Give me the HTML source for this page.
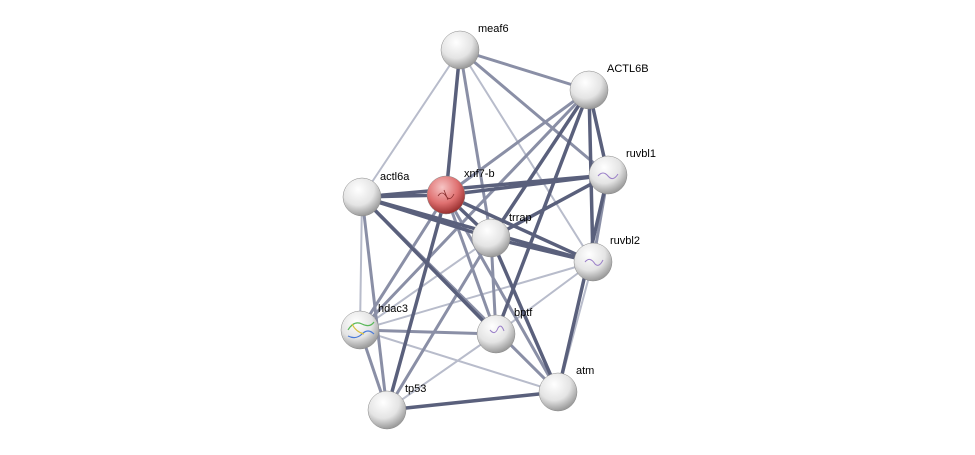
<!DOCTYPE html>
<html><head><meta charset="utf-8"><style>
html,body{margin:0;padding:0;background:#fff;}
svg{display:block;}
text{font-family:"Liberation Sans",sans-serif;font-size:11px;fill:#000;}
</style></head><body>
<svg width="975" height="455" viewBox="0 0 975 455">
<defs>
<radialGradient id="g" cx="40%" cy="30%" r="70%">
<stop offset="0" stop-color="#ffffff"/><stop offset="0.6" stop-color="#e4e4e4"/><stop offset="1" stop-color="#9a9a9a"/>
</radialGradient>
<radialGradient id="r" cx="40%" cy="30%" r="70%">
<stop offset="0" stop-color="#f6c4c4"/><stop offset="0.6" stop-color="#df7070"/><stop offset="1" stop-color="#9a3030"/>
</radialGradient>
</defs>
<g stroke-linecap="round">
<g stroke="#b8bccb" stroke-width="2">
<line x1="460" y1="50" x2="362" y2="197"/>
<line x1="460" y1="50" x2="593" y2="262"/>
<line x1="362" y1="197" x2="360" y2="330"/>
<line x1="360" y1="330" x2="593" y2="262"/>
<line x1="496" y1="334" x2="593" y2="262"/>
<line x1="360" y1="330" x2="558" y2="392"/>
<line x1="387" y1="410" x2="496" y2="334"/>
<line x1="558" y1="392" x2="593" y2="262"/>
<line x1="360" y1="330" x2="491" y2="238"/>
</g>
<g stroke="#8a8fa6" stroke-width="3">
<line x1="460" y1="50" x2="589" y2="90"/>
<line x1="460" y1="50" x2="608" y2="175"/>
<line x1="460" y1="50" x2="491" y2="238"/>
<line x1="589" y1="90" x2="446" y2="195"/>
<line x1="589" y1="90" x2="360" y2="330"/>
<line x1="362" y1="197" x2="387" y2="410"/>
<line x1="362" y1="197" x2="558" y2="392"/>
<line x1="446" y1="195" x2="360" y2="330"/>
<line x1="446" y1="195" x2="496" y2="334"/>
<line x1="446" y1="195" x2="558" y2="392"/>
<line x1="360" y1="330" x2="496" y2="334"/>
<line x1="360" y1="330" x2="387" y2="410"/>
<line x1="387" y1="410" x2="491" y2="238"/>
<line x1="491" y1="238" x2="496" y2="334"/>
<line x1="608" y1="175" x2="593" y2="262"/>
</g>
<g stroke="#5a607c" stroke-width="3.5">
<line x1="460" y1="50" x2="446" y2="195"/>
<line x1="589" y1="90" x2="491" y2="238"/>
<line x1="589" y1="90" x2="608" y2="175"/>
<line x1="589" y1="90" x2="593" y2="262"/>
<line x1="589" y1="90" x2="496" y2="334"/>
<line x1="362" y1="197" x2="608" y2="175"/>
<line x1="362" y1="197" x2="446" y2="195"/>
<line x1="362" y1="197" x2="491" y2="238"/>
<line x1="362" y1="197" x2="593" y2="262"/>
<line x1="362" y1="197" x2="496" y2="334"/>
<line x1="446" y1="195" x2="608" y2="175"/>
<line x1="446" y1="195" x2="491" y2="238"/>
<line x1="446" y1="195" x2="593" y2="262"/>
<line x1="446" y1="195" x2="387" y2="410"/>
<line x1="491" y1="238" x2="608" y2="175"/>
<line x1="491" y1="238" x2="593" y2="262"/>
<line x1="491" y1="238" x2="558" y2="392"/>
<line x1="387" y1="410" x2="558" y2="392"/>
<line x1="608" y1="175" x2="558" y2="392"/>
</g>
</g>
<g stroke="#888" stroke-width="0.5">
<circle cx="460" cy="50" r="19" fill="url(#g)"/>
<circle cx="589" cy="90" r="19" fill="url(#g)"/>
<circle cx="608" cy="175" r="19" fill="url(#g)"/>
<circle cx="362" cy="197" r="19" fill="url(#g)"/>
<circle cx="446" cy="195" r="19" fill="url(#r)"/>
<circle cx="491" cy="238" r="19" fill="url(#g)"/>
<circle cx="593" cy="262" r="19" fill="url(#g)"/>
<circle cx="360" cy="330" r="19" fill="url(#g)"/>
<circle cx="496" cy="334" r="19" fill="url(#g)"/>
<circle cx="558" cy="392" r="19" fill="url(#g)"/>
<circle cx="387" cy="410" r="19" fill="url(#g)"/>
</g>
<g fill="none" stroke="#9a7fc8" stroke-width="1">
<path d="M598 176 q5 -6 10 0 q5 6 10 -2"/>
<path d="M585 262 q5 -6 10 2 q4 4 8 -4"/>
<path d="M490 330 q5 6 8 -2 q3 -5 6 3"/>
</g>
<g fill="none" stroke="#8a3030" stroke-width="0.8">
<path d="M438 196 q4 -6 8 0 q4 6 8 -2 M444 190 l4 10"/>
</g>
<g fill="none" stroke-width="1.2">
<path d="M348 330 q6 -10 14 -6 q8 4 12 -2" stroke="#5ab85a"/>
<path d="M348 336 q8 4 14 -2 q6 -6 12 0" stroke="#4a7ad8"/>
<path d="M352 324 q4 8 12 10" stroke="#d8c040"/>
</g>
<text x="478" y="32">meaf6</text>
<text x="607" y="72">ACTL6B</text>
<text x="626" y="157">ruvbl1</text>
<text x="380" y="180">actl6a</text>
<text x="464" y="177">xnf7-b</text>
<text x="509" y="221">trrap</text>
<text x="610" y="244">ruvbl2</text>
<text x="378" y="312">hdac3</text>
<text x="514" y="316">bptf</text>
<text x="576" y="374">atm</text>
<text x="405" y="392">tp53</text>
</svg>
</body></html>
